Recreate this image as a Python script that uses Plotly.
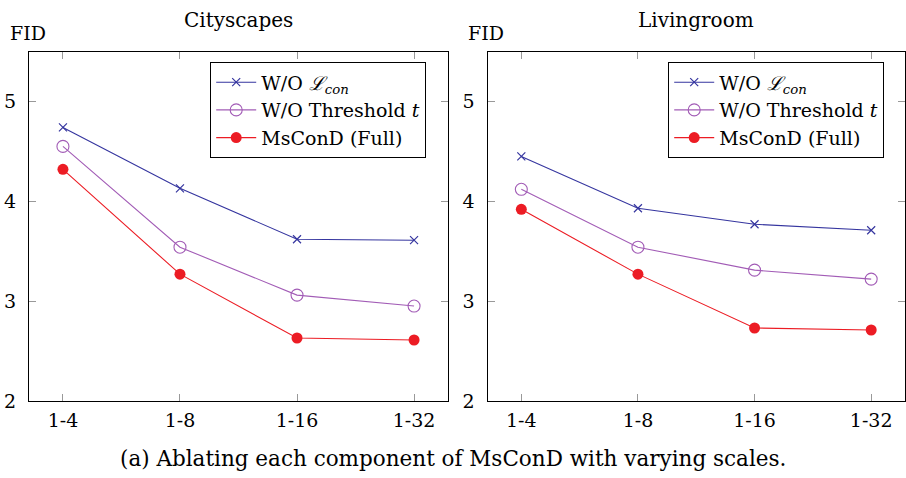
import plotly.graph_objects as go

categories = ["1-4", "1-8", "1-16", "1-32"]
city_wo_lcon = [4.74, 4.13, 3.62, 3.61]
city_wo_thr = [4.55, 3.54, 3.06, 2.95]
city_full = [4.32, 3.27, 2.63, 2.61]
living_wo_lcon = [4.45, 3.93, 3.77, 3.71]
living_wo_thr = [4.12, 3.54, 3.31, 3.22]
living_full = [3.92, 3.27, 2.73, 2.71]
series_names = ["W/O <i>ℒ</i><sub><i>con</i></sub>", "W/O Threshold <i>t</i>", "MsConD (Full)"]
y_ticks = [2, 3, 4, 5]

FONT = "'DejaVu Serif', 'Liberation Serif', serif"
FS = 19
BLUE = "#35359f"
PURPLE = "#a25cb6"
RED = "#ec1c24"
H = 466.0  # effective rendered height used for paper fractions

def fy(px):
    return 1 - px / H

styles = [
    dict(color=BLUE, marker=dict(symbol="x-thin-open", size=8, color=BLUE, line=dict(width=1.2, color=BLUE))),
    dict(color=PURPLE, marker=dict(symbol="circle-open", size=12, color=PURPLE, line=dict(width=1.1, color=PURPLE))),
    dict(color=RED, marker=dict(symbol="circle", size=11, color=RED)),
]

fig = go.Figure()
xi = list(range(len(categories)))
for col, (data, leg) in enumerate([((city_wo_lcon, city_wo_thr, city_full), "legend"),
                                    ((living_wo_lcon, living_wo_thr, living_full), "legend2")]):
    for k, ys in enumerate(data):
        st = styles[k]
        fig.add_trace(go.Scatter(
            x=xi, y=ys, mode="lines+markers", name=series_names[k],
            line=dict(color=st["color"], width=1.1), marker=st["marker"],
            xaxis="x" if col == 0 else "x2", yaxis="y" if col == 0 else "y2",
            legend=leg, showlegend=True,
        ))

axis_common = dict(
    showline=True, linecolor="black", linewidth=1.2, mirror="ticks",
    ticks="inside", ticklen=7, tickcolor="#999999", tickwidth=1,
    showgrid=False, zeroline=False,
    tickfont=dict(family=FONT, size=FS, color="black"),
)
xaxis_common = dict(axis_common, tickmode="array", tickvals=xi, ticktext=categories,
                    range=[-0.29, 3.29], ticklabelstandoff=2)
yaxis_common = dict(axis_common, tickmode="array", tickvals=y_ticks, range=[2, 5.5],
                    ticklabelstandoff=8)

ydom = [fy(400), fy(51.5)]
legend_common = dict(
    bgcolor="white", bordercolor="black", borderwidth=1.2,
    font=dict(family=FONT, size=FS, color="black"),
    xanchor="left", yanchor="top", tracegroupgap=0, itemwidth=40,
)

fig.update_layout(
    width=906, height=478,
    margin=dict(l=0, r=0, t=0, b=0),
    paper_bgcolor="white", plot_bgcolor="white",
    font=dict(family=FONT, size=FS, color="black"),
    xaxis=dict(xaxis_common, domain=[29 / 906, 448 / 906], anchor="y"),
    yaxis=dict(yaxis_common, domain=ydom, anchor="x"),
    xaxis2=dict(xaxis_common, domain=[487.5 / 906, 905 / 906], anchor="y2"),
    yaxis2=dict(yaxis_common, domain=ydom, anchor="x2"),
    legend=dict(legend_common, x=210 / 906, y=fy(62)),
    legend2=dict(legend_common, x=668 / 906, y=fy(62)),
    annotations=[
        dict(text="Cityscapes", x=238 / 906, y=fy(20), xref="paper", yref="paper",
             showarrow=False, font=dict(family=FONT, size=FS + 1), xanchor="center", yanchor="middle"),
        dict(text="Livingroom", x=696 / 906, y=fy(20), xref="paper", yref="paper",
             showarrow=False, font=dict(family=FONT, size=FS + 1), xanchor="center", yanchor="middle"),
        dict(text="FID", x=8 / 906, y=fy(33), xref="paper", yref="paper",
             showarrow=False, font=dict(family=FONT, size=FS), xanchor="left", yanchor="middle"),
        dict(text="FID", x=466 / 906, y=fy(33), xref="paper", yref="paper",
             showarrow=False, font=dict(family=FONT, size=FS), xanchor="left", yanchor="middle"),
        dict(text="(a) Ablating each component of MsConD with varying scales.", x=453 / 906,
             y=fy(458), xref="paper", yref="paper", showarrow=False,
             font=dict(family=FONT, size=21.5), xanchor="center", yanchor="middle"),
    ],
)

fig.write_html("out.html")
